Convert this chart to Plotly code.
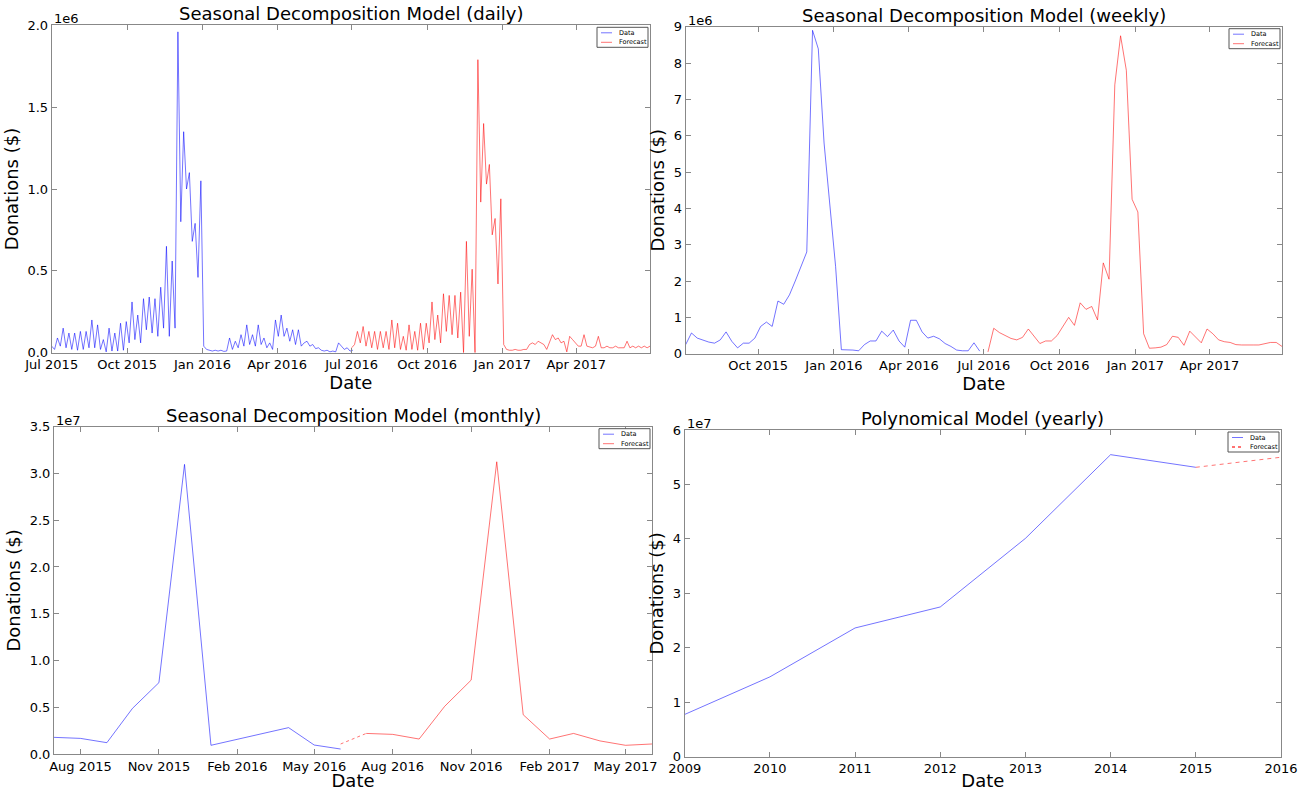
import pandas as pd
import plotly.graph_objects as go

# ---------------- DATA ----------------
# Daily (half-week resolution), values in thousands of $
daily_data_start = "2015-07-01"
daily_data_k = [
    40, 20, 90, 40, 150, 30, 120, 20, 120, 15,
    130, 20, 130, 30, 200, 30, 170, 20, 80, 5,
    150, 10, 120, 10, 180, 15, 190, 60, 310, 80,
    230, 60, 330, 140, 340, 120, 330, 100, 400, 150,
    650, 100, 560, 150, 1960, 800, 1350, 1000, 1100, 680,
    790, 460, 1050, 40, 20, 15, 10, 15, 10, 15,
    8, 10, 90, 20, 70, 30, 110, 40, 170, 50,
    110, 40, 170, 50, 90, 30, 60, 20, 200, 100,
    230, 100, 150, 70, 140, 50, 140, 40, 60, 70,
    40, 50, 25, 30, 15, 10, 15, 5, 10, 5,
    60, 40, 20, 30, 10, 15,
]
daily_fc_start = "2016-07-01"
daily_fc_k = [
    30, 50, 130, 60, 160, 40, 130, 30, 130, 20,
    130, 30, 130, 20, 200, 30, 180, 20, 100, 15,
    170, 20, 130, 15, 180, 20, 180, 60, 310, 80,
    230, 60, 360, 130, 350, 110, 350, 90, 370, 0,
    680, 100, 510, 0, 1790, 920, 1400, 1030, 1150, 720,
    820, 420, 940, 50, 20, 15, 15, 20, 15, 15,
    20, 20, 50, 60, 50, 70, 60, 50, 20, 60,
    110, 80, 90, 60, 70, 5, 100, 80, 60, 40,
    40, 110, 40, 35, 30, 40, 100, 30, 30, 40,
    30, 30, 40, 30, 30, 30, 70, 30, 40, 30,
    40, 30, 40, 30, 40,
]
daily_step = "84h"

# Weekly, values in millions of $
weekly_data_start = "2015-07-05"
weekly_data_m = [
    0.25, 0.57, 0.43, 0.37, 0.32, 0.29, 0.38, 0.60, 0.34, 0.16,
    0.29, 0.29, 0.43, 0.75, 0.87, 0.75, 1.45, 1.36, 1.62, 2.0,
    2.4, 2.8, 8.9, 8.39, 5.8, 4.1, 2.4, 0.11, 0.11, 0.10,
    0.08, 0.25, 0.35, 0.35, 0.62, 0.47, 0.65, 0.35, 0.18, 0.92,
    0.92, 0.60, 0.43, 0.48, 0.41, 0.28, 0.20, 0.10, 0.08, 0.08,
    0.30, 0.07,
]
weekly_fc_start = "2016-07-06"
weekly_fc_m = [
    0.05, 0.70, 0.58, 0.50, 0.42, 0.38, 0.45, 0.68, 0.48, 0.28,
    0.35, 0.35, 0.50, 0.75, 1.0, 0.78, 1.4, 1.22, 1.3, 0.93,
    2.5, 2.05, 7.4, 8.75, 7.8, 4.25, 3.9, 0.55, 0.15, 0.16,
    0.18, 0.25, 0.48, 0.45, 0.23, 0.62, 0.45, 0.30, 0.68, 0.55,
    0.38, 0.33, 0.31, 0.25, 0.24, 0.23, 0.24, 0.24, 0.28, 0.31,
    0.31, 0.20,
]

# Monthly, values in millions of $
monthly_data_dates = ["2015-07-01", "2015-08-01", "2015-09-01", "2015-10-01", "2015-11-01",
                      "2015-12-01", "2016-01-01", "2016-02-01", "2016-03-01", "2016-04-01",
                      "2016-05-01", "2016-06-01"]
monthly_data_m = [1.78, 1.67, 1.21, 4.88, 7.63, 30.97, 0.93, 1.57, 2.2, 2.82, 0.96, 0.53]
monthly_link_dates = ["2016-06-01", "2016-07-01"]
monthly_link_m = [1.07, 2.2]
monthly_fc_dates = ["2016-07-01", "2016-08-01", "2016-09-01", "2016-10-01", "2016-11-01",
                    "2016-12-01", "2017-01-01", "2017-02-01", "2017-03-01", "2017-04-01",
                    "2017-05-01", "2017-06-01"]
monthly_fc_m = [2.2, 2.1, 1.6, 5.1, 7.9, 31.25, 4.2, 1.6, 2.2, 1.4, 0.93, 1.07]

# Yearly, values in units of 1e7 $
yearly_data_years = [2009, 2010, 2011, 2012, 2013, 2014, 2015]
yearly_data_e7 = [0.776, 1.466, 2.364, 2.75, 4.01, 5.547, 5.315]
yearly_fc_years = [2015, 2016]
yearly_fc_e7 = [5.315, 5.50]

# Tick labels
daily_tick_dates = ["2015-07-01", "2015-10-01", "2016-01-01", "2016-04-01",
                    "2016-07-01", "2016-10-01", "2017-01-01", "2017-04-01"]
daily_tick_text = ["Jul 2015", "Oct 2015", "Jan 2016", "Apr 2016",
                   "Jul 2016", "Oct 2016", "Jan 2017", "Apr 2017"]
weekly_tick_dates = ["2015-10-01", "2016-01-01", "2016-04-01", "2016-07-01",
                     "2016-10-01", "2017-01-01", "2017-04-01"]
weekly_tick_text = ["Oct 2015", "Jan 2016", "Apr 2016", "Jul 2016",
                    "Oct 2016", "Jan 2017", "Apr 2017"]
monthly_tick_dates = ["2015-08-01", "2015-11-01", "2016-02-01", "2016-05-01",
                      "2016-08-01", "2016-11-01", "2017-02-01", "2017-05-01"]
monthly_tick_text = ["Aug 2015", "Nov 2015", "Feb 2016", "May 2016",
                     "Aug 2016", "Nov 2016", "Feb 2017", "May 2017"]
yearly_ticks = [2009, 2010, 2011, 2012, 2013, 2014, 2015, 2016]

daily_y_text = ["0.0", "0.5", "1.0", "1.5", "2.0"]
weekly_y_text = ["0", "1", "2", "3", "4", "5", "6", "7", "8", "9"]
monthly_y_text = ["0.0", "0.5", "1.0", "1.5", "2.0", "2.5", "3.0", "3.5"]
yearly_y_text = ["0", "1", "2", "3", "4", "5", "6"]

titles = ["Seasonal Decomposition Model (daily)", "Seasonal Decomposition Model (weekly)",
          "Seasonal Decomposition Model (monthly)", "Polynomical Model (yearly)"]
offsets = ["1e6", "1e6", "1e7", "1e7"]
legend_names = ["Data", "Forecast"]

# ---------------- BUILD ----------------
FONT = "DejaVu Sans"
BLUE = "rgba(0,0,255,0.55)"
RED = "rgba(255,0,0,0.55)"
AX = "#888888"
W, H = 1312, 791


def px(x):
    return x / W


def py(y):
    return 1 - y / H


# axes boxes in pixels (left, right, top, bottom)
boxes = [
    (51.7, 650.0, 25.3, 352.7),
    (685.7, 1282.0, 26.7, 353.7),
    (54.0, 652.0, 426.7, 754.0),
    (684.7, 1281.0, 430.0, 756.7),
]

d_data_x = pd.date_range(daily_data_start, periods=len(daily_data_k), freq=daily_step)
d_fc_x = pd.date_range(daily_fc_start, periods=len(daily_fc_k), freq=daily_step)
w_data_x = pd.date_range(weekly_data_start, periods=len(weekly_data_m), freq="7D")
w_fc_x = pd.date_range(weekly_fc_start, periods=len(weekly_fc_m), freq="7D")

fig = go.Figure()


def line(x, y, color, name, xa, ya, dash=None):
    fig.add_trace(go.Scatter(
        x=x, y=y, mode="lines", name=name,
        line=dict(color=color, width=1, dash=dash),
        xaxis=xa, yaxis=ya, showlegend=False, hoverinfo="skip"))


line(d_data_x, [v * 1e3 for v in daily_data_k], BLUE, "Data", "x", "y")
line(d_fc_x, [v * 1e3 for v in daily_fc_k], RED, "Forecast", "x", "y")
line(w_data_x, [v * 1e6 for v in weekly_data_m], BLUE, "Data", "x2", "y2")
line(w_fc_x, [v * 1e6 for v in weekly_fc_m], RED, "Forecast", "x2", "y2")
line(monthly_data_dates, [v * 1e6 for v in monthly_data_m], BLUE, "Data", "x3", "y3")
line(monthly_link_dates, [v * 1e6 for v in monthly_link_m], RED, "link", "x3", "y3", dash="3px,3px")
line(monthly_fc_dates, [v * 1e6 for v in monthly_fc_m], RED, "Forecast", "x3", "y3")
line(yearly_data_years, [v * 1e7 for v in yearly_data_e7], BLUE, "Data", "x4", "y4")
line(yearly_fc_years, [v * 1e7 for v in yearly_fc_e7], RED, "Forecast", "x4", "y4", dash="4px,4px")

common = dict(showline=True, mirror="allticks", linecolor=AX, linewidth=1,
              ticks="inside", ticklen=5, tickcolor=AX, tickwidth=1,
              showgrid=False, zeroline=False, automargin=False,
              tickfont=dict(family=FONT, size=13, color="black"))

xcfg = [
    dict(range=[daily_data_start, d_fc_x[-1]], tickvals=daily_tick_dates, ticktext=daily_tick_text, type="date"),
    dict(range=[weekly_data_start, w_fc_x[-1]], tickvals=weekly_tick_dates, ticktext=weekly_tick_text, type="date"),
    dict(range=[monthly_data_dates[0], monthly_fc_dates[-1]], tickvals=monthly_tick_dates, ticktext=monthly_tick_text, type="date"),
    dict(range=[yearly_data_years[0], yearly_fc_years[-1]], tickvals=yearly_ticks,
         ticktext=[str(t) for t in yearly_ticks], type="linear"),
]
ycfg = [
    dict(range=[0, 2e6], tickvals=[i * 0.5e6 for i in range(len(daily_y_text))], ticktext=daily_y_text),
    dict(range=[0, 9e6], tickvals=[i * 1e6 for i in range(len(weekly_y_text))], ticktext=weekly_y_text),
    dict(range=[0, 3.5e7], tickvals=[i * 0.5e7 for i in range(len(monthly_y_text))], ticktext=monthly_y_text),
    dict(range=[0, 6e7], tickvals=[i * 1e7 for i in range(len(yearly_y_text))], ticktext=yearly_y_text),
]

annotations = []
shapes = []
layout = dict(width=W, height=H, margin=dict(l=0, r=0, t=0, b=0),
              template="none", paper_bgcolor="white", plot_bgcolor="white",
              font=dict(family=FONT, color="black"))

for k, (x0, x1, y0, y1) in enumerate(boxes):
    sfx = "" if k == 0 else str(k + 1)
    xa = dict(common, **xcfg[k])
    xa.update(domain=[px(x0), px(x1)], anchor="y" + sfx,
              title=dict(text="Date", font=dict(family=FONT, size=18), standoff=4))
    ya = dict(common, **ycfg[k])
    ya.update(domain=[py(y1), py(y0)], anchor="x" + sfx,
              title=dict(text="Donations ($)", font=dict(family=FONT, size=18), standoff=4))
    layout["xaxis" + sfx] = xa
    layout["yaxis" + sfx] = ya

    annotations.append(dict(
        text=titles[k], x=px((x0 + x1) / 2), y=py(y0), xref="paper", yref="paper",
        xanchor="center", yanchor="bottom", showarrow=False, yshift=-1,
        font=dict(family=FONT, size=18, color="black")))
    annotations.append(dict(
        text=offsets[k], x=px(x0), y=py(y0), xref="paper", yref="paper",
        xanchor="left", yanchor="bottom", showarrow=False, yshift=-3,
        font=dict(family=FONT, size=13, color="black")))

    # compact legend box (matplotlib-like) in the top-right corner
    lx0, lx1 = x1 - 53, x1 - 2
    ly0, ly1 = y0 + 2, y0 + 22
    shapes.append(dict(type="rect", xref="paper", yref="paper",
                       x0=px(lx0), x1=px(lx1), y0=py(ly1), y1=py(ly0),
                       line=dict(color="#555555", width=1), fillcolor="white", layer="above"))
    for r, (nm, col) in enumerate(zip(legend_names, [BLUE, RED])):
        yy = ly0 + 5.5 + r * 9.5
        dash = "dot" if (k == 3 and r == 1) else None
        wdt = 2 if dash else 1
        shapes.append(dict(type="line", xref="paper", yref="paper",
                           x0=px(lx0 + 4), x1=px(lx0 + 15), y0=py(yy), y1=py(yy),
                           line=dict(color=col, width=wdt, dash=dash), layer="above"))
        annotations.append(dict(
            text=nm, x=px(lx0 + 20), y=py(yy), xref="paper", yref="paper",
            xanchor="left", yanchor="middle", showarrow=False,
            font=dict(family=FONT, size=6.5, color="black")))

layout["annotations"] = annotations
layout["shapes"] = shapes
fig.update_layout(**layout)
fig.write_html("out.html")
